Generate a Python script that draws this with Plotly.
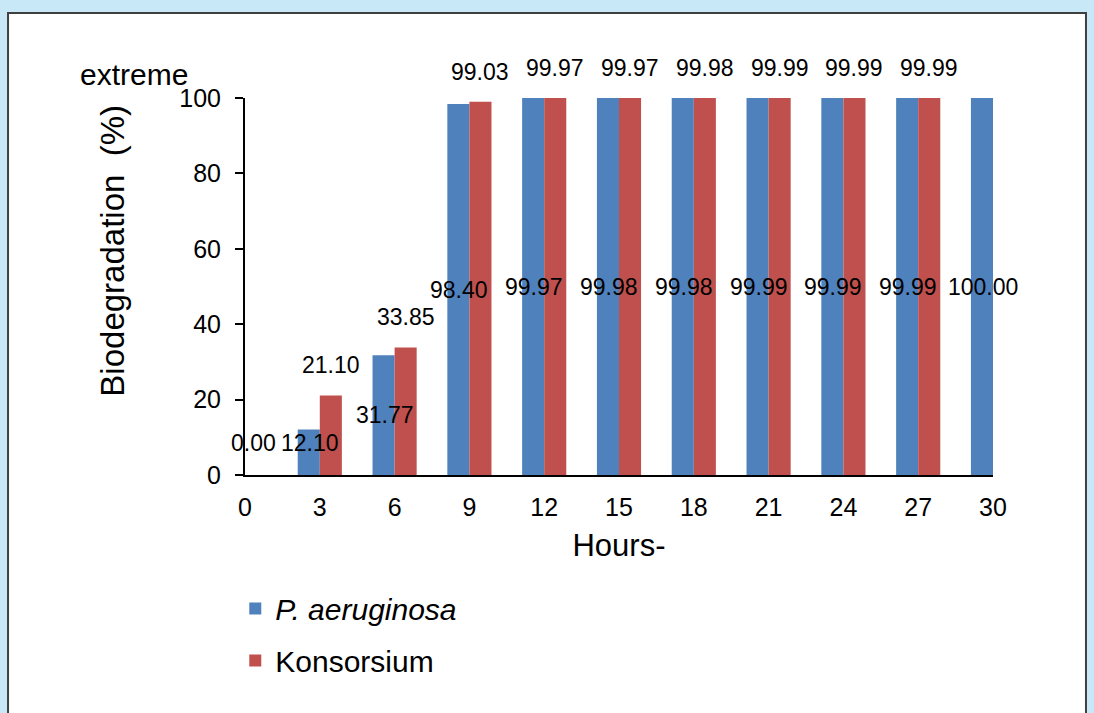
import plotly.graph_objects as go

hours = [0, 3, 6, 9, 12, 15, 18, 21, 24, 27, 30]
p_aeruginosa = [0.00, 12.10, 31.77, 98.40, 99.97, 99.98, 99.98, 99.99, 99.99, 99.99, 100.00]
konsorsium = [None, 21.10, 33.85, 99.03, 99.97, 99.97, 99.98, 99.99, 99.99, 99.99, 100.00]
series_names = ["<i>P. aeruginosa</i>", "Konsorsium"]
y_ticks = [0, 20, 40, 60, 80, 100]

BLUE = "#4f81bd"
RED = "#c0504d"
FONT = "Liberation Sans, Arial, sans-serif"

fig = go.Figure()
fig.add_trace(go.Bar(x=hours, y=p_aeruginosa, name=series_names[0],
                     marker=dict(color=BLUE, line=dict(width=0)), legendgroup="a"))
fig.add_trace(go.Bar(x=hours, y=konsorsium, name=series_names[1],
                     marker=dict(color=RED, line=dict(width=0)), legendgroup="b"))

annotations = []
# blue labels: centred inside the bar
for h, v in zip(hours, p_aeruginosa):
    if v is None:
        continue
    annotations.append(dict(x=h, y=max(v / 2, 8.5), xref="x", yref="y",
                            text=f"{v:.2f}", showarrow=False,
                            xshift=(-10 if h > 0 else 8),
                            font=dict(size=23, color="black", family=FONT)))
# red labels: above the bar
for h, v in zip(hours, konsorsium):
    if v is None or h >= hours[-1]:
        continue
    annotations.append(dict(x=h, y=v, xref="x", yref="y",
                            text=f"{v:.2f}", showarrow=False,
                            xshift=11, yshift=30,
                            font=dict(size=23, color="black", family=FONT)))
annotations.append(dict(x=-0.149, y=1.063, xref="paper", yref="paper",
                        text="extreme", showarrow=False,
                        xanchor="center", yanchor="middle",
                        font=dict(size=30, color="black", family=FONT)))
annotations.append(dict(x=-0.1765, y=0.595, xref="paper", yref="paper",
                        text="Biodegradation  (%)", showarrow=False,
                        textangle=-90, xanchor="center", yanchor="middle",
                        font=dict(size=33, color="black", family=FONT)))

fig.update_layout(
    width=1094, height=713,
    margin=dict(l=245, r=101, t=98, b=238, autoexpand=False),
    paper_bgcolor="#c8e8f8",
    plot_bgcolor="white",
    barmode="group",
    bargap=0.41,
    bargroupgap=0,
    font=dict(family=FONT, color="black"),
    showlegend=True,
    legend=dict(x=-0.013, y=-0.285, xanchor="left", yanchor="top",
                orientation="v", traceorder="grouped", tracegroupgap=10,
                font=dict(size=30, family=FONT, color="black"),
                bgcolor="rgba(0,0,0,0)"),
    annotations=annotations,
    shapes=[dict(type="rect", xref="paper", yref="paper", layer="below",
                 x0=-0.3168, x1=1.1243, y0=-0.7, y1=1.2255,
                 fillcolor="white", line=dict(color="#3f3f3f", width=2))],
    xaxis=dict(range=[0, 30], tickmode="array", tickvals=hours,
               ticktext=[str(h) for h in hours],
               showline=True, linecolor="black", linewidth=2,
               ticks="", showgrid=False, zeroline=False,
               tickfont=dict(size=25, family=FONT, color="black"),
               ticklabelstandoff=9,
               title=dict(text="Hours-", standoff=14,
                          font=dict(size=31, family=FONT, color="black"))),
    yaxis=dict(range=[0, 100], tickmode="array", tickvals=y_ticks,
               showline=True, linecolor="black", linewidth=2,
               ticks="outside", ticklen=8, tickwidth=2, tickcolor="black",
               showgrid=False, zeroline=False,
               tickfont=dict(size=25, family=FONT, color="black"),
               ticklabelstandoff=9),
)

fig.write_html("out.html")
